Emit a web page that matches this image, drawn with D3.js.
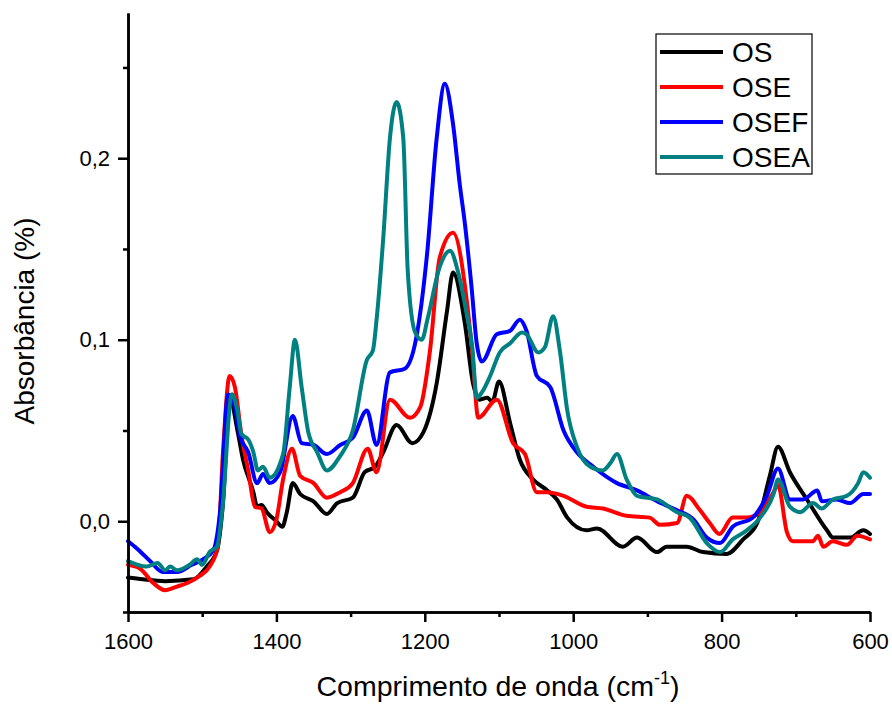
<!DOCTYPE html>
<html>
<head>
<meta charset="utf-8">
<script src="https://cdn.jsdelivr.net/npm/d3@7"></script>
<style>
  html, body { margin: 0; padding: 0; background: #fff; }
  svg { display: block; font-family: "Liberation Sans", Arial, sans-serif; }
</style>
</head>
<body>
<svg id="chart" width="892" height="706"></svg>
<script>
// ---- Data (wavenumber cm-1, absorbance) ----
const seriesNames = ["OS", "OSE", "OSEF", "OSEA"];
const seriesColors = ["#000000", "#ff0000", "#0000ff", "#008080"];

const osData = [[1600,-0.031],[1580,-0.032],[1550,-0.033],[1512,-0.032],[1494,-0.025],[1480,-0.016],[1472,0.010],[1463,0.068],[1452,0.049],[1445,0.034],[1431,0.016],[1426,0.008],[1420,0.009],[1413,0.005],[1400,0.000],[1392,-0.003],[1386,0.005],[1378,0.021],[1368,0.015],[1350,0.011],[1332,0.004],[1318,0.010],[1297,0.013],[1281,0.027],[1267,0.030],[1256,0.038],[1238,0.053],[1217,0.043],[1202,0.049],[1184,0.076],[1170,0.116],[1162,0.137],[1146,0.109],[1135,0.076],[1126,0.067],[1116,0.068],[1109,0.066],[1100,0.077],[1085,0.054],[1072,0.034],[1054,0.023],[1035,0.017],[1022,0.012],[1008,0.002],[982,-0.005],[968,-0.004],[933,-0.014],[914,-0.009],[887,-0.017],[874,-0.014],[847,-0.014],[825,-0.017],[793,-0.018],[771,-0.010],[752,-0.001],[735,0.025],[724,0.041],[708,0.027],[685,0.012],[658,-0.005],[650,-0.009],[627,-0.009],[609,-0.005],[600,-0.007]];

const oseData = [[1600,-0.024],[1584,-0.026],[1566,-0.034],[1550,-0.038],[1534,-0.036],[1520,-0.034],[1503,-0.030],[1490,-0.025],[1479,-0.014],[1472,0.038],[1463,0.080],[1456,0.074],[1447,0.047],[1438,0.028],[1429,0.008],[1420,0.007],[1409,-0.006],[1400,0.001],[1391,0.023],[1379,0.040],[1368,0.025],[1350,0.021],[1332,0.013],[1314,0.016],[1297,0.021],[1277,0.040],[1265,0.027],[1247,0.067],[1220,0.057],[1206,0.063],[1193,0.094],[1180,0.145],[1162,0.159],[1143,0.120],[1136,0.093],[1128,0.057],[1103,0.067],[1081,0.043],[1065,0.037],[1049,0.016],[1035,0.016],[1013,0.014],[982,0.008],[960,0.007],[928,0.003],[897,0.002],[883,-0.002],[860,-0.001],[847,0.014],[829,0.006],[816,-0.001],[803,-0.007],[785,0.002],[766,0.002],[748,0.005],[730,0.016],[724,0.020],[712,-0.006],[704,-0.011],[677,-0.011],[670,-0.008],[663,-0.014],[650,-0.011],[631,-0.013],[617,-0.008],[600,-0.010]];

const osefData = [[1600,-0.011],[1588,-0.015],[1570,-0.022],[1553,-0.028],[1534,-0.028],[1514,-0.024],[1499,-0.021],[1485,-0.016],[1476,0.005],[1465,0.070],[1456,0.063],[1449,0.047],[1438,0.038],[1426,0.021],[1418,0.026],[1409,0.021],[1395,0.027],[1378,0.058],[1366,0.043],[1350,0.042],[1332,0.037],[1314,0.042],[1297,0.046],[1278,0.061],[1265,0.042],[1247,0.082],[1227,0.084],[1212,0.100],[1197,0.147],[1184,0.211],[1173,0.241],[1162,0.219],[1153,0.186],[1146,0.164],[1137,0.129],[1130,0.098],[1123,0.088],[1103,0.103],[1085,0.105],[1072,0.111],[1063,0.105],[1049,0.080],[1031,0.074],[1013,0.050],[995,0.038],[973,0.030],[941,0.021],[914,0.017],[887,0.011],[860,0.006],[838,0.001],[820,-0.009],[802,-0.012],[785,-0.003],[758,0.002],[739,0.014],[724,0.029],[708,0.012],[690,0.012],[671,0.017],[665,0.011],[645,0.012],[627,0.010],[609,0.015],[600,0.015]];

const oseaData = [[1600,-0.022],[1575,-0.025],[1560,-0.023],[1550,-0.027],[1543,-0.025],[1534,-0.027],[1517,-0.024],[1507,-0.021],[1500,-0.024],[1490,-0.017],[1480,-0.014],[1473,0.006],[1460,0.070],[1453,0.062],[1447,0.048],[1438,0.045],[1431,0.038],[1425,0.028],[1418,0.030],[1409,0.024],[1391,0.037],[1382,0.074],[1375,0.100],[1366,0.074],[1357,0.049],[1345,0.038],[1332,0.028],[1314,0.036],[1297,0.050],[1278,0.089],[1270,0.094],[1265,0.111],[1256,0.156],[1247,0.211],[1238,0.231],[1229,0.211],[1223,0.138],[1213,0.104],[1204,0.100],[1196,0.112],[1180,0.140],[1166,0.149],[1155,0.137],[1143,0.113],[1136,0.096],[1130,0.068],[1123,0.071],[1112,0.080],[1099,0.093],[1085,0.098],[1069,0.104],[1063,0.103],[1047,0.093],[1038,0.096],[1027,0.113],[1018,0.094],[1008,0.061],[995,0.041],[977,0.030],[960,0.028],[950,0.032],[941,0.037],[928,0.023],[914,0.014],[887,0.012],[860,0.005],[843,0.002],[820,-0.012],[802,-0.017],[785,-0.010],[766,-0.005],[748,0.002],[730,0.015],[724,0.023],[708,0.008],[694,0.005],[677,0.010],[665,0.007],[650,0.012],[631,0.014],[616,0.021],[609,0.027],[600,0.024]];

const xMajorTicks = [1600, 1400, 1200, 1000, 800, 600];
const xMinorTicks = [1500, 1300, 1100, 900, 700];
const yMajorTicks = [0.0, 0.1, 0.2];
const yMinorTicks = [-0.05, 0.05, 0.15, 0.25];
const xDomain = [1600, 600];
const yDomain = [-0.05, 0.28];
const xTitle = "Comprimento de onda (cm";
const yTitle = "Absorbância (%)";

// ---- Layout ----
const svg = d3.select("#chart");
const mLeft = 128, mRight = 870, mTop = 13, mBottom = 612;

const x = d3.scaleLinear().domain(xDomain).range([mLeft, mRight]);
const y = d3.scaleLinear().domain(yDomain).range([mBottom, mTop]);

const fmt = d => d3.format(".1f")(d).replace(".", ",");

// Lines
const allData = [osData, oseData, osefData, oseaData];
const line = d3.line().x(d => x(d[0])).y(d => y(d[1])).curve(d3.curveMonotoneX);
allData.forEach((data, i) => {
  svg.append("path")
    .datum(data)
    .attr("fill", "none")
    .attr("stroke", seriesColors[i])
    .attr("stroke-width", 4)
    .attr("stroke-linejoin", "round")
    .attr("stroke-linecap", "round")
    .attr("d", line);
});

// Axes
function styleAxis(g) {
  g.selectAll("path.domain").attr("stroke", "#000").attr("stroke-width", 2.5);
  g.selectAll(".tick line").attr("stroke", "#000").attr("stroke-width", 2.5);
  g.selectAll(".tick text").attr("fill", "#000").attr("font-size", "22px")
    .attr("font-family", "'Liberation Sans', Arial, sans-serif");
}

svg.append("g").attr("transform", `translate(0,${mBottom})`)
  .call(d3.axisBottom(x).tickValues(xMinorTicks).tickSize(5).tickSizeOuter(0).tickFormat(""))
  .call(styleAxis);
svg.append("g").attr("transform", `translate(0,${mBottom})`)
  .call(d3.axisBottom(x).tickValues(xMajorTicks).tickSize(10).tickSizeOuter(0).tickPadding(11).tickFormat(d3.format("d")))
  .call(styleAxis);

svg.append("g").attr("transform", `translate(${mLeft},0)`)
  .call(d3.axisLeft(y).tickValues(yMinorTicks).tickSize(5).tickSizeOuter(0).tickFormat(""))
  .call(styleAxis);
svg.append("g").attr("transform", `translate(${mLeft},0)`)
  .call(d3.axisLeft(y).tickValues(yMajorTicks).tickSize(10).tickSizeOuter(0).tickPadding(8).tickFormat(fmt))
  .call(styleAxis);

// Axis titles
const xt = svg.append("text")
  .attr("x", 498).attr("y", 696)
  .attr("text-anchor", "middle")
  .attr("font-size", "28.5px").attr("fill", "#000");
xt.append("tspan").text(xTitle);
xt.append("tspan").attr("font-size", "18px").attr("dy", -12).text("-1");
xt.append("tspan").attr("dy", 12).text(")");

svg.append("text")
  .attr("transform", "translate(34,321) rotate(-90)")
  .attr("text-anchor", "middle")
  .attr("font-size", "28px").attr("fill", "#000")
  .text(yTitle);

// Legend
const lg = svg.append("g");
lg.append("rect").attr("x", 656).attr("y", 34).attr("width", 156).attr("height", 140)
  .attr("fill", "#fff").attr("stroke", "#000").attr("stroke-width", 1.2);
seriesNames.forEach((name, i) => {
  const yy = 52 + i * 35;
  lg.append("line").attr("x1", 660).attr("x2", 723).attr("y1", yy).attr("y2", yy)
    .attr("stroke", seriesColors[i]).attr("stroke-width", 4);
  lg.append("text").attr("x", 732).attr("y", yy + 10)
    .attr("font-size", "28px").attr("fill", "#000").text(name);
});
</script>
</body>
</html>
